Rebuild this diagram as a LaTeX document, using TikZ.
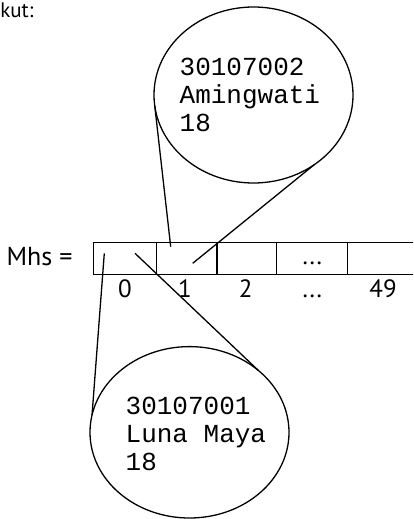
\documentclass[tikz,border=0pt]{standalone}
\usepackage{fontspec}
\setsansfont{PT Sans}
\newfontfamily\monof{Liberation Mono}
\usetikzlibrary{shapes.geometric}
\begin{document}
\begin{tikzpicture}[x=1pt,y=-1pt, line width=1.3pt,
  bubble/.style={draw, ellipse, minimum width=199pt, inner sep=0pt, outer sep=0pt},
  cell/.style={draw, rectangle, minimum height=31.6pt, inner sep=0pt, outer sep=0pt},
  rec/.style={font=\monof\fontsize{26}{28.3}\selectfont, align=left, inner sep=0pt},
  lab/.style={font=\sffamily\fontsize{25}{27}\selectfont, inner sep=0pt}]
\useasboundingbox (0,0) rectangle (413,519);
\clip (0,0) rectangle (413,519);
% array cells
\node[cell, minimum width=63.4pt] (c0) at (125,258.5) {};
\node[cell, minimum width=60.3pt] (c1) at (186.85,258.5) {};
\node[cell, minimum width=59.7pt] (c2) at (246.85,258.5) {};
\node[cell, minimum width=71pt] (c3) at (312.2,258.5) {};
\node[cell, minimum width=72.3pt] (c4) at (383.85,258.5) {};
\node[lab, anchor=base] (dots) at (312.2,264) {...};
% indices
\node[lab, anchor=base] (i0) at (125,297.5) {0};
\node[lab, anchor=base] (i1) at (185,297.5) {1};
\node[lab, anchor=base] (i2) at (245.7,297.5) {2};
\node[lab, anchor=base] (i3) at (312.2,297.5) {...};
\node[lab, anchor=base] (i4) at (383,297.5) {49};
% labels
\node[lab, font=\sffamily\fontsize{26}{28}\selectfont, anchor=base west] (mhs) at (6,265.7) {Mhs =};
\node[font=\sffamily\fontsize{21}{23}\selectfont, anchor=base east, inner sep=0pt] (kut) at (34,17.5) {kut:};
% bubbles
\node[bubble, minimum height=176pt] (e1) at (253.5,95) {};
\node[bubble, minimum height=171.4pt] (e2) at (189.5,432.3) {};
\node[rec, anchor=base west] (t1) at (179,131.7) {30107002\\Amingwati\\18};
\node[rec, anchor=base west] (t2) at (125,470.7) {30107001\\Luna Maya\\18};
% connectors
\coordinate (a1) at (170.7,246.7);
\coordinate (a2) at (192.7,263.3);
\coordinate (b1) at (104.3,253.3);
\coordinate (b2) at (135,253.3);
\draw (e1.186.9) -- (a1);
\draw (e1.311.2) -- (a2);
\draw (b1) -- (e2.170.9);
\draw (b2) -- (e2.42.2);
\end{tikzpicture}
\end{document}
